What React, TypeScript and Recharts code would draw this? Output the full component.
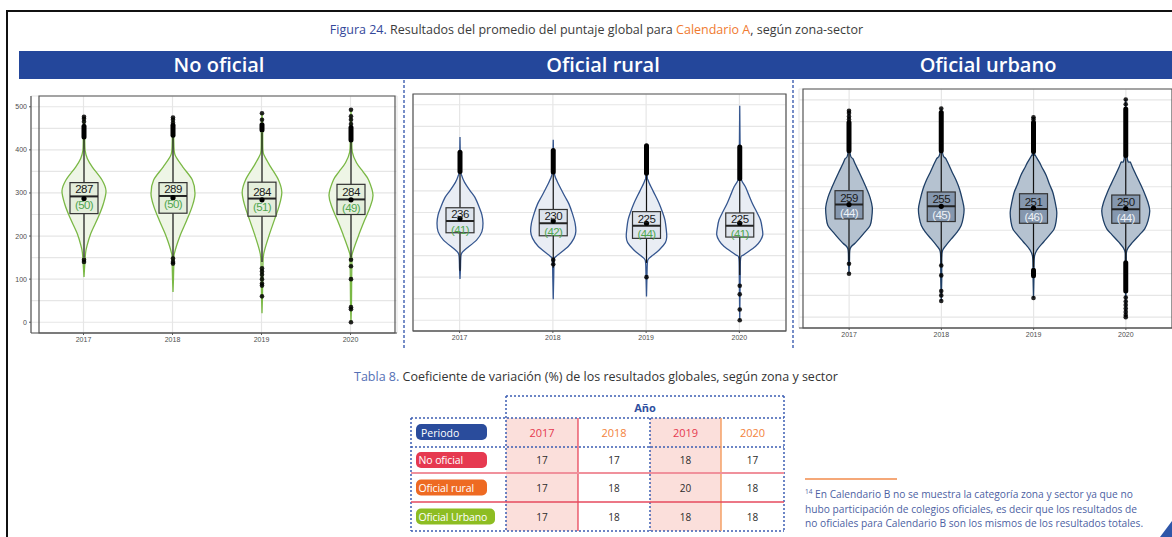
import React from 'react';
import { ComposedChart, Bar, XAxis, YAxis, CartesianGrid, ReferenceArea } from 'recharts';

const YEARS = ['2017', '2018', '2019', '2020'];
const Y_LABELS = [0, 100, 200, 300, 400, 500];
const GRID_VALUES = [0, 50, 100, 150, 200, 250, 300, 350, 400, 450, 500];

// No oficial
const NO_MEAN = [287, 289, 284, 284];
const NO_CV = [50, 50, 51, 49];
const NO_Q1 = [252, 253, 246, 250];
const NO_MEDIAN = [292, 293, 287, 285];
const NO_Q3 = [324, 324, 325, 320];
const NO_WHISKER = [[150, 425], [150, 430], [140, 440], [150, 420]];
const NO_DENSITY = [
  [[105, 0], [130, 0.03], [160, 0.07], [174, 0.12], [205, 0.3], [244, 0.65], [275, 0.88], [305, 1], [330, 0.82], [360, 0.38], [380, 0.15], [399, 0.05], [430, 0.03], [477, 0]],
  [[70, 0], [100, 0.02], [140, 0.04], [159, 0.06], [198, 0.3], [236, 0.62], [270, 0.88], [299, 1], [330, 0.88], [360, 0.45], [385, 0.12], [400, 0.05], [430, 0.03], [475, 0]],
  [[21, 0], [60, 0.02], [100, 0.03], [130, 0.04], [159, 0.08], [198, 0.3], [237, 0.56], [270, 0.78], [302, 0.9], [330, 0.75], [360, 0.4], [385, 0.12], [400, 0.04], [450, 0.03], [485, 0]],
  [[0, 0], [40, 0.02], [100, 0.03], [145, 0.04], [160, 0.06], [198, 0.32], [237, 0.62], [265, 0.85], [295, 1], [330, 0.8], [349, 0.55], [370, 0.25], [395, 0.06], [430, 0.03], [493, 0]],
];
const NO_OUT_BANDS = [[[430, 455]], [[434, 457]], [[446, 458]], [[423, 452]]];
const NO_OUT_POINTS = [
  [465, 472, 477, 145, 140],
  [463, 470, 475, 148, 140, 136],
  [470, 485, 125, 118, 110, 100, 90, 85, 60],
  [460, 470, 478, 493, 145, 130, 100, 35, 30, 0],
];

// Oficial rural
const RU_MEAN = [236, 230, 225, 225];
const RU_CV = [41, 42, 44, 41];
const RU_Q1 = [203, 196, 190, 193];
const RU_MEDIAN = [230, 225, 219, 219];
const RU_Q3 = [261, 257, 252, 249];
const RU_WHISKER = [[115, 345], [122, 345], [133, 341], [105, 329]];
const RU_DENSITY = [
  [[96, 0], [120, 0.02], [152, 0.05], [163, 0.2], [186, 0.72], [205, 0.95], [225, 1], [245, 0.95], [263, 0.83], [285, 0.65], [302, 0.42], [320, 0.2], [335, 0.08], [350, 0.03], [425, 0]],
  [[49, 0], [100, 0.02], [140, 0.04], [148, 0.12], [171, 0.65], [190, 0.9], [205, 0.98], [225, 0.95], [248, 0.83], [270, 0.68], [286, 0.52], [305, 0.33], [325, 0.15], [345, 0.04], [419, 0]],
  [[55, 0], [100, 0.02], [134, 0.04], [144, 0.12], [163, 0.55], [180, 0.82], [194, 0.88], [215, 0.85], [233, 0.8], [250, 0.7], [271, 0.55], [290, 0.38], [309, 0.2], [325, 0.07], [336, 0.03], [407, 0]],
  [[0, 0], [100, 0.02], [144, 0.04], [152, 0.18], [171, 0.68], [185, 0.9], [198, 1], [215, 0.97], [233, 0.9], [250, 0.75], [271, 0.55], [290, 0.4], [309, 0.25], [325, 0.08], [345, 0.03], [498, 0]],
];
const RU_OUT_BANDS = [[[345, 390]], [[344, 394]], [[341, 405]], [[329, 402]]];
const RU_OUT_POINTS = [[], [130, 140], [100], [80, 60, 25, 0]];

// Oficial urbano
const UR_MEAN = [259, 255, 251, 250];
const UR_CV = [44, 45, 46, 44];
const UR_Q1 = [226, 220, 216, 216];
const UR_MEDIAN = [259, 255, 249, 248];
const UR_Q3 = [291, 288, 284, 281];
const UR_WHISKER = [[130, 383], [120, 383], [115, 381], [125, 372]];
const UR_DENSITY = [
  [[100, 0], [130, 0.02], [158, 0.05], [170, 0.25], [180, 0.42], [195, 0.65], [211, 0.88], [230, 0.95], [253, 0.97], [275, 0.88], [295, 0.74], [315, 0.58], [333, 0.43], [350, 0.28], [364, 0.17], [380, 0.04], [475, 0]],
  [[37, 0], [85, 0.02], [110, 0.02], [150, 0.04], [165, 0.2], [180, 0.42], [195, 0.65], [211, 0.83], [230, 0.92], [249, 0.95], [270, 0.88], [295, 0.76], [315, 0.62], [333, 0.46], [350, 0.32], [364, 0.2], [383, 0.04], [480, 0]],
  [[44, 0], [95, 0.02], [110, 0.02], [140, 0.04], [155, 0.15], [173, 0.42], [190, 0.68], [203, 0.86], [220, 0.94], [242, 0.97], [265, 0.9], [288, 0.8], [305, 0.67], [326, 0.53], [345, 0.35], [356, 0.25], [372, 0.08], [381, 0.04], [460, 0]],
  [[0, 0], [125, 0.02], [154, 0.05], [173, 0.3], [190, 0.58], [203, 0.79], [222, 0.93], [245, 1], [265, 0.92], [288, 0.76], [305, 0.62], [326, 0.44], [345, 0.28], [356, 0.2], [372, 0.05], [501, 0]],
];
const UR_OUT_BANDS = [[[383, 448]], [[383, 471]], [[381, 448], [95, 108]], [[372, 479], [60, 125]]];
const UR_OUT_POINTS = [
  [455, 462, 470, 475, 123, 100],
  [480, 119, 96, 60, 50, 37],
  [455, 460, 44],
  [490, 501, 45, 36, 28, 20, 12, 5, 0],
];

// Tabla 8
const TABLE_YEARS = ['2017', '2018', '2019', '2020'];
const TABLE_ROWS = ['No oficial', 'Oficial rural', 'Oficial Urbano'];
const CV_NO_OFICIAL = [17, 17, 18, 17];
const CV_RURAL = [17, 18, 20, 18];
const CV_URBANO = [17, 18, 18, 18];
const TABLE_VALUES = [CV_NO_OFICIAL, CV_RURAL, CV_URBANO];

const buildRows = (mean, cv, q1, median, q3, whisker, density, bands, points) =>
  YEARS.map((year, i) => ({
    year,
    mean: mean[i],
    cv: cv[i],
    q1: q1[i],
    median: median[i],
    q3: q3[i],
    whisker: whisker[i],
    density: density[i],
    bands: bands[i],
    points: points[i],
    range: [density[i][0][0], density[i][density[i].length - 1][0]],
  }));

const NO_ROWS = buildRows(NO_MEAN, NO_CV, NO_Q1, NO_MEDIAN, NO_Q3, NO_WHISKER, NO_DENSITY, NO_OUT_BANDS, NO_OUT_POINTS);
const RU_ROWS = buildRows(RU_MEAN, RU_CV, RU_Q1, RU_MEDIAN, RU_Q3, RU_WHISKER, RU_DENSITY, RU_OUT_BANDS, RU_OUT_POINTS);
const UR_ROWS = buildRows(UR_MEAN, UR_CV, UR_Q1, UR_MEDIAN, UR_Q3, UR_WHISKER, UR_DENSITY, UR_OUT_BANDS, UR_OUT_POINTS);

const THEME_NO = { violinFill: '#eef5e6', violinStroke: '#7ab845', boxFill: '#e4eedb', cvColor: '#4fa64f', halfWidth: 22 };
const THEME_RU = { violinFill: '#e9edf4', violinStroke: '#35568f', boxFill: '#dde3ec', cvColor: '#4fa64f', halfWidth: 23 };
const THEME_UR = { violinFill: '#b5c2d0', violinStroke: '#1f3f66', boxFill: '#8597ae', cvColor: '#eef2f7', halfWidth: 24 };

const CHART_FONT = "'Liberation Sans', Arial, sans-serif";

const smoothPath = (pts: number[][]) => {
  let d = `M${pts[0][0]},${pts[0][1]}`;
  for (let i = 0; i < pts.length - 1; i++) {
    const p0 = pts[i - 1] || pts[i];
    const p1 = pts[i];
    const p2 = pts[i + 1];
    const p3 = pts[i + 2] || p2;
    const c1x = p1[0] + (p2[0] - p0[0]) / 6;
    const c1y = p1[1] + (p2[1] - p0[1]) / 6;
    const c2x = p2[0] - (p3[0] - p1[0]) / 6;
    const c2y = p2[1] - (p3[1] - p1[1]) / 6;
    d += ` C${c1x},${c1y} ${c2x},${c2y} ${p2[0]},${p2[1]}`;
  }
  return d;
};

function ViolinShape(props: any) {
  const { x, y, width, height, payload, theme } = props;
  if (!payload) return null;
  const [lo, hi] = payload.range;
  const top = Math.min(y, y + height);
  const bottom = Math.max(y, y + height);
  const k = (bottom - top) / (hi - lo);
  const toY = (v: number) => top + (hi - v) * k;
  const cx = x + width / 2;
  const hw = theme.halfWidth;
  const rightSide = payload.density.map(([v, w]) => [cx + w * hw, toY(v)]);
  const leftSide = payload.density.map(([v, w]) => [cx - w * hw, toY(v)]).reverse();
  const d = smoothPath(rightSide) + ' L' + smoothPath(leftSide).slice(1) + ' Z';
  const boxHalf = 14;
  const medY = toY(payload.median);

  return (
    <g>
      <path d={d} fill={theme.violinFill} stroke={theme.violinStroke} strokeWidth={1.3} />
      <line x1={cx} x2={cx} y1={toY(payload.whisker[0])} y2={toY(payload.whisker[1])} stroke="#111" strokeWidth={1.2} />
      {payload.bands.map(([a, b], i) => (
        <line key={'b' + i} x1={cx} x2={cx} y1={toY(a)} y2={toY(b)} stroke="#000" strokeWidth={5} strokeLinecap="round" />
      ))}
      {payload.points.map((v, i) => (
        <circle key={'p' + i} cx={cx} cy={toY(v)} r={2.3} fill="#000" fillOpacity={0.85} />
      ))}
      <rect
        x={cx - boxHalf}
        y={toY(payload.q3)}
        width={boxHalf * 2}
        height={toY(payload.q1) - toY(payload.q3)}
        fill={theme.boxFill}
        stroke="#333"
        strokeWidth={1.2}
      />
      <line x1={cx - boxHalf} x2={cx + boxHalf} y1={medY} y2={medY} stroke="#222" strokeWidth={2} />
      <circle cx={cx} cy={toY(payload.mean)} r={2.6} fill="#000" />
      <text x={cx} y={medY - 7} textAnchor="middle" dominantBaseline="central" fontSize={11.5} fill="#1a1a1a" fontFamily={CHART_FONT} letterSpacing={-0.6}>
        {payload.mean}
      </text>
      <text x={cx} y={medY + 8.5} textAnchor="middle" dominantBaseline="central" fontSize={11.5} fill={theme.cvColor} fontFamily={CHART_FONT} letterSpacing={-0.6}>
        ({payload.cv})
      </text>
    </g>
  );
}

// only the hundreds get a label and a tick mark; the fifties just feed the grid
function YTick(props: any) {
  const { x, y, payload, show } = props;
  if (!show || !Y_LABELS.includes(payload.value)) return <g />;
  return (
    <g>
      <line x1={x + 2} x2={x + 4} y1={y} y2={y} stroke="#555" />
      <text x={x} y={y} textAnchor="end" dominantBaseline="central" fontSize={7} fill="#4d4d4d" fontFamily={CHART_FONT}>
        {payload.value}
      </text>
    </g>
  );
}

function ViolinPanel({ rows, theme, width, height, margin, showYTicks, padding }: any) {
  const tickStyle = { fontSize: 7, fill: '#4d4d4d', fontFamily: CHART_FONT };
  return (
    <ComposedChart width={width} height={height} data={rows} margin={margin}>
      <CartesianGrid stroke="#e6e6e6" strokeWidth={1.2} />
      <XAxis
        dataKey="year"
        padding={padding}
        tick={tickStyle}
        tickSize={2}
        tickLine={{ stroke: '#555' }}
        axisLine={{ stroke: '#555', strokeWidth: 1.2 }}
        height={16}
        interval={0}
      />
      <YAxis
        type="number"
        domain={[-25, 525]}
        allowDataOverflow
        ticks={GRID_VALUES}
        interval={0}
        width={showYTicks ? 21 : 0}
        tick={(p: any) => <YTick {...p} show={showYTicks} />}
        tickSize={2}
        tickLine={false}
        axisLine={{ stroke: '#555', strokeWidth: 1.2 }}
      />
      <ReferenceArea y1={-25} y2={525} ifOverflow="visible" fill="none" fillOpacity={0} stroke="#555" strokeWidth={1.2} />
      <Bar dataKey="range" barSize={60} isAnimationActive={false} shape={(p: any) => <ViolinShape {...p} theme={theme} />} />
    </ComposedChart>
  );
}

const PILL_COLORS = ['#e63950', '#ee6a22', '#8dbd22'];
const PILL_WIDTHS = [71, 71, 79];
const COL_X = [506, 578, 650, 721, 784];
const ROW_Y = [418, 447, 473, 502, 531];

function Table() {
  const dotted = { stroke: '#3d5eb3', strokeWidth: 1.5, strokeDasharray: '2 2' };
  const yearColors = ['#e6394f', '#f3823a', '#e6394f', '#f3823a'];
  const font = "'Open Sans', sans-serif";
  return (
    <g fontFamily={font}>
      {[0, 2].map((c) => (
        <rect key={c} x={COL_X[c]} y={ROW_Y[0]} width={COL_X[c + 1] - COL_X[c]} height={ROW_Y[4] - ROW_Y[0]} fill="#fbdfdb" />
      ))}
      <line x1={506} x2={784} y1={396} y2={396} {...dotted} />
      <line x1={411} x2={784} y1={418} y2={418} {...dotted} />
      <line x1={411} x2={784} y1={447} y2={447} {...dotted} />
      <line x1={411} x2={784} y1={531} y2={531} {...dotted} />
      <line x1={411} x2={411} y1={418} y2={531} {...dotted} />
      <line x1={506} x2={506} y1={396} y2={531} {...dotted} />
      <line x1={650} x2={650} y1={418} y2={531} {...dotted} />
      <line x1={784} x2={784} y1={396} y2={531} {...dotted} />
      <line x1={578} x2={578} y1={418} y2={531} stroke="#e6394f" strokeWidth={1.2} />
      <line x1={721} x2={721} y1={418} y2={531} stroke="#f5a066" strokeWidth={1.5} />
      <line x1={411} x2={784} y1={473} y2={473} stroke="#f0919c" strokeWidth={2} />
      <line x1={411} x2={784} y1={502} y2={502} stroke="#e64a5e" strokeWidth={1.5} />
      <text x={645} y={407} textAnchor="middle" dominantBaseline="central" fontSize={11} fontWeight={700} fill="#2f4f9f">
        Año
      </text>
      <rect x={416} y={424} width={71} height={16} rx={5} fill="#2a4c9c" />
      <text x={421} y={432.5} dominantBaseline="central" fontSize={10.5} fill="#fff">
        Periodo
      </text>
      {TABLE_YEARS.map((yr, c) => (
        <text key={yr} x={(COL_X[c] + COL_X[c + 1]) / 2} y={432.5} textAnchor="middle" dominantBaseline="central" fontSize={11} fill={yearColors[c]}>
          {yr}
        </text>
      ))}
      {TABLE_ROWS.map((name, r) => {
        const cy = (ROW_Y[r + 1] + ROW_Y[r + 2]) / 2;
        return (
          <g key={name}>
            <rect x={416} y={cy - 8} width={PILL_WIDTHS[r]} height={16} rx={5} fill={PILL_COLORS[r]} />
            <text x={418.5} y={cy} dominantBaseline="central" fontSize={10.5} fill="#fff" letterSpacing={-0.1}>
              {name}
            </text>
            {TABLE_VALUES[r].map((v, c) => (
              <text key={c} x={(COL_X[c] + COL_X[c + 1]) / 2} y={cy} textAnchor="middle" dominantBaseline="central" fontSize={10} fill="#2b2b2b">
                {v}
              </text>
            ))}
          </g>
        );
      })}
    </g>
  );
}

export default function App() {
  const font = "'Open Sans', sans-serif";
  const bannerTitle = (text: string, center: number) => (
    <div style={{ position: 'absolute', left: center - 150, top: 51, width: 300, height: 28, lineHeight: '28px', textAlign: 'center', color: '#fff', fontSize: 20, fontWeight: 600 }}>
      {text}
    </div>
  );
  return (
    <div style={{ position: 'absolute', left: 0, top: 0, width: 1172, height: 537, overflow: 'hidden', background: '#fff', fontFamily: font }}>
      <div style={{ position: 'absolute', left: 6, top: 10, width: 1220, height: 600, border: '2px solid #111', boxSizing: 'border-box' }} />
      <div style={{ position: 'absolute', left: 0, top: 21, width: 1193, textAlign: 'center', fontSize: 12.5, color: '#3b3b3b', whiteSpace: 'nowrap' }}>
        <span style={{ color: '#34489a' }}>Figura 24.</span> Resultados del promedio del puntaje global para{' '}
        <span style={{ color: '#f07a30' }}>Calendario A</span>, según zona-sector
      </div>
      <div style={{ position: 'absolute', left: 19, top: 51, width: 1170, height: 28, background: '#24479b' }} />
      {bannerTitle('No oficial', 219)}
      {bannerTitle('Oficial rural', 603)}
      {bannerTitle('Oficial urbano', 988)}

      <div style={{ position: 'absolute', left: 10, top: 90 }}>
        <ViolinPanel rows={NO_ROWS} theme={THEME_NO} width={392} height={265} margin={{ top: 6, right: 5, bottom: 6, left: 0 }} showYTicks padding={{ left: 8, right: 2 }} />
      </div>
      <div style={{ position: 'absolute', left: 408, top: 88 }}>
        <ViolinPanel rows={RU_ROWS} theme={THEME_RU} width={383} height={265} margin={{ top: 6, right: 5, bottom: 6, left: 5 }} showYTicks={false} padding={{ left: 0, right: 0 }} />
      </div>
      <div style={{ position: 'absolute', left: 794, top: 83 }}>
        <ViolinPanel rows={UR_ROWS} theme={THEME_UR} width={386} height={267} margin={{ top: 6, right: 4, bottom: 6, left: 5 }} showYTicks={false} padding={{ left: 4, right: 4 }} />
      </div>

      <div style={{ position: 'absolute', left: 354, top: 368, fontSize: 12.5, color: '#333', whiteSpace: 'nowrap' }}>
        <span style={{ color: '#5570b5' }}>Tabla 8.</span> Coeficiente de variación (%) de los resultados globales, según zona y sector
      </div>

      <div style={{ position: 'absolute', left: 805, top: 478, width: 92, height: 2, background: '#f5a878' }} />
      <div style={{ position: 'absolute', left: 805, top: 485, fontSize: 10.2, lineHeight: '14.5px', color: '#4d5fa3', whiteSpace: 'nowrap' }}>
        <sup style={{ fontSize: 6.5 }}>14</sup> En Calendario B no se muestra la categoría zona y sector ya que no
        <br />
        hubo participación de colegios oficiales, es decir que los resultados de
        <br />
        no oficiales para Calendario B son los mismos de los resultados totales.
      </div>

      <svg width={1172} height={537} style={{ position: 'absolute', left: 0, top: 0, pointerEvents: 'none' }}>
        <line x1={404} x2={404} y1={80} y2={350} stroke="#4a68b5" strokeWidth={1.5} strokeDasharray="3 2" />
        <line x1={793} x2={793} y1={80} y2={350} stroke="#4a68b5" strokeWidth={1.5} strokeDasharray="3 2" />
        <Table />
        <polygon points="1160,537 1172,521 1172,537" fill="#2e56a8" />
      </svg>
    </div>
  );
}
